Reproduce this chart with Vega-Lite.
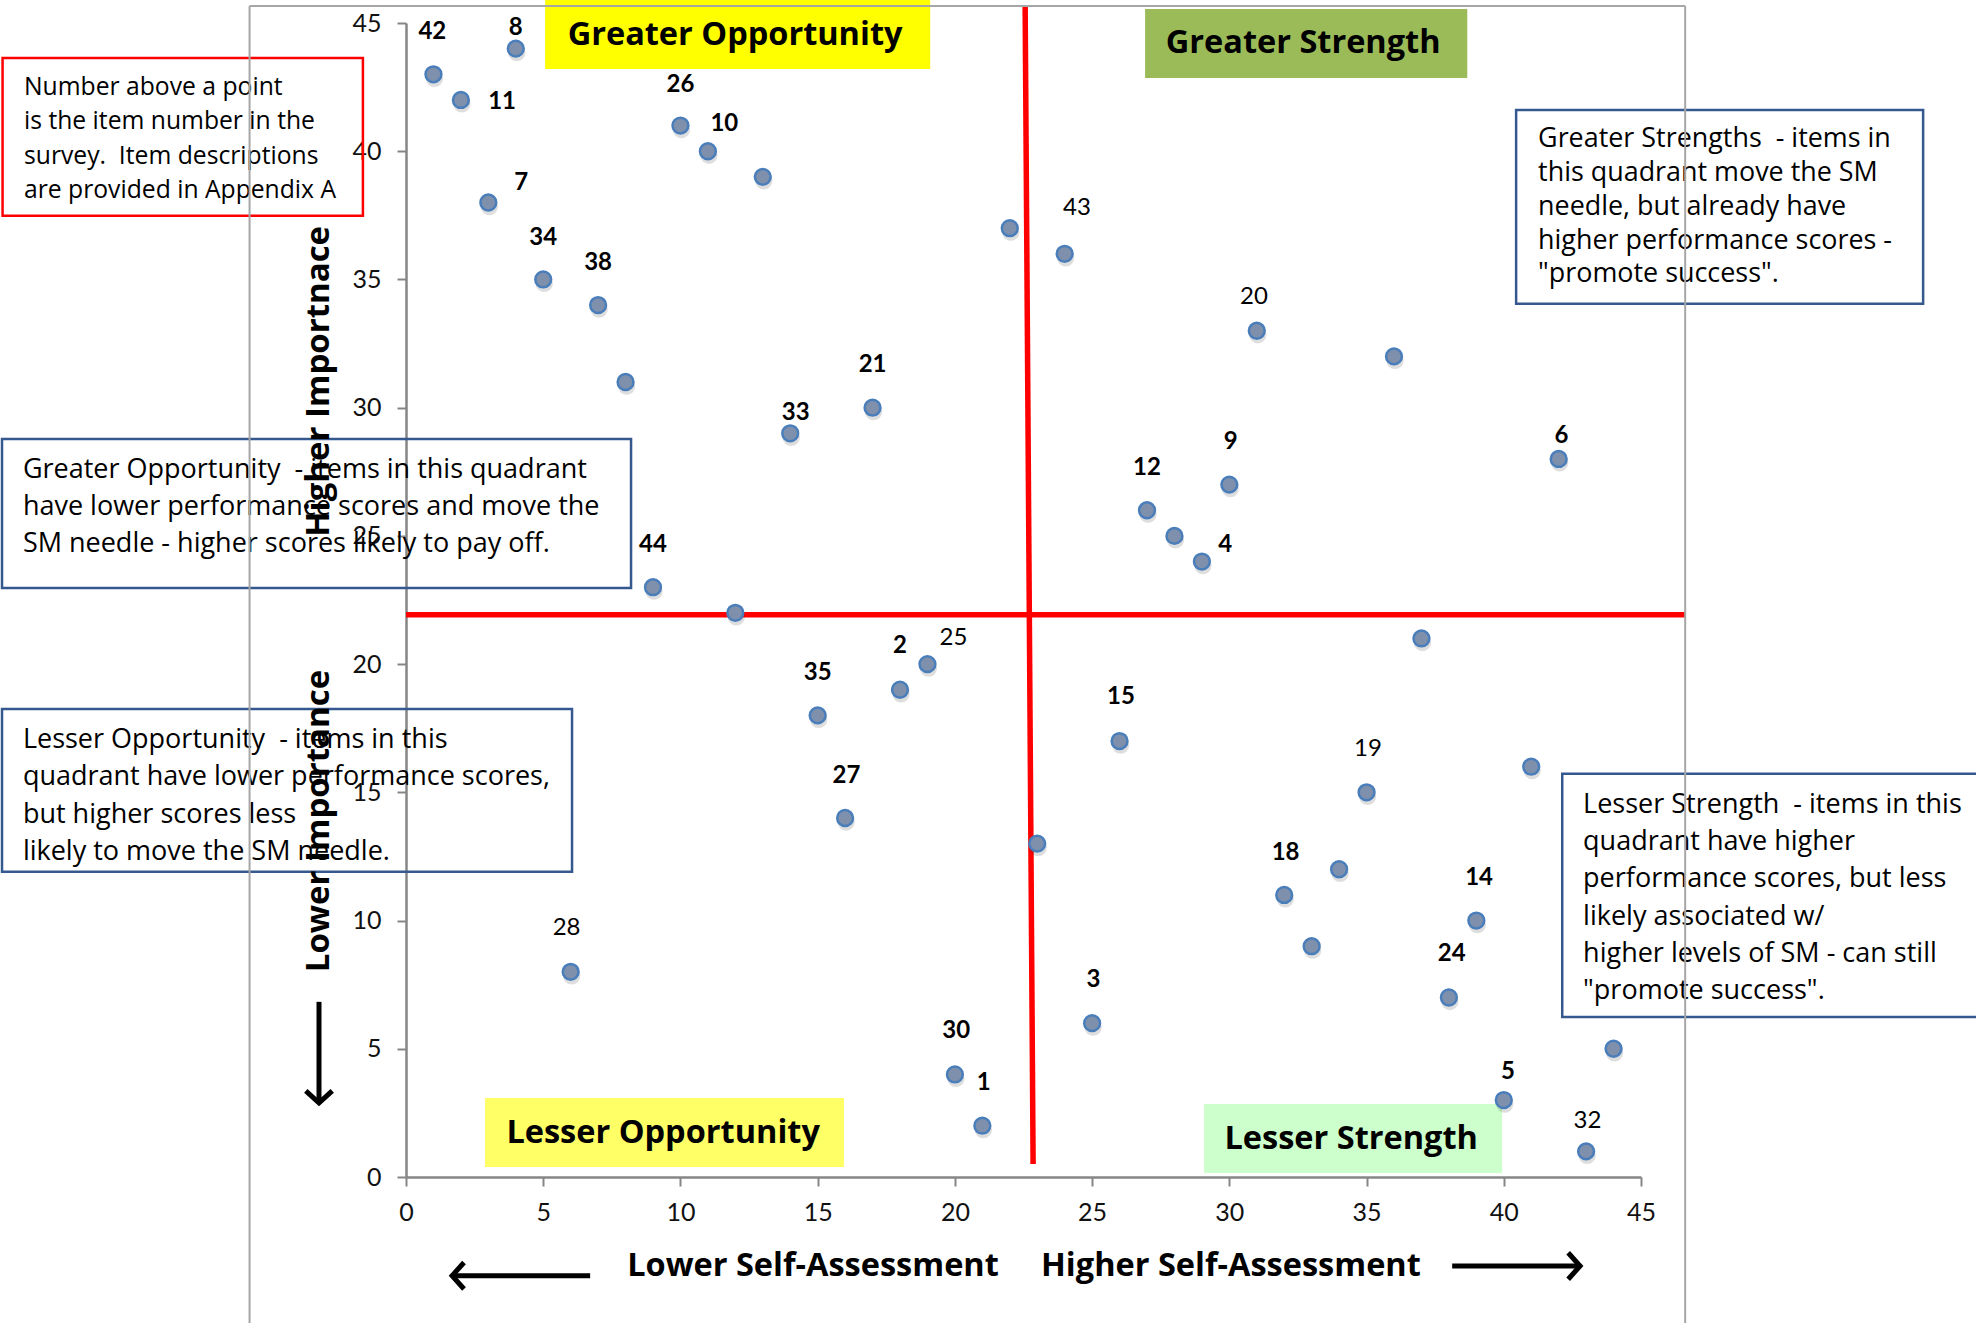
{
  "$schema": "https://vega.github.io/schema/vega-lite/v6.json",
  "autosize": "none",
  "width": 1235,
  "height": 1154,
  "padding": {"left": 406, "top": 23, "right": 335, "bottom": 146},
  "background": "white",
  "config": {
    "view": {"stroke": null},
    "font": "Lato",
    "axis": {
      "domainColor": "#868686", "domainWidth": 2.5,
      "tickColor": "#868686", "tickWidth": 2, "tickSize": 9,
      "labelFont": "Lato", "labelFontSize": 25, "labelColor": "#111111",
      "labelFlush": false, "labelOverlap": false,
      "grid": false,
      "titleFont": "Open Sans", "titleFontWeight": "bold", "titleFontSize": 32.5, "titleColor": "#000000"
    }
  },
  "datasets": {
    "items": [
      {"item": 42, "x": 1, "y": 43, "lx": 0.96, "ly": 44.65, "b": true},
      {"item": 8, "x": 4, "y": 44, "lx": 4.0, "ly": 44.8, "b": true},
      {"item": 11, "x": 2, "y": 42, "lx": 3.5, "ly": 41.9, "b": true},
      {"item": 26, "x": 10, "y": 41, "lx": 10.0, "ly": 42.6, "b": true},
      {"item": 10, "x": 11, "y": 40, "lx": 11.6, "ly": 41.05, "b": true},
      {"item": null, "x": 13, "y": 39},
      {"item": 7, "x": 3, "y": 38, "lx": 4.2, "ly": 38.75, "b": true},
      {"item": 34, "x": 5, "y": 35, "lx": 5.0, "ly": 36.6, "b": true},
      {"item": 38, "x": 7, "y": 34, "lx": 7.0, "ly": 35.65, "b": true},
      {"item": null, "x": 8, "y": 31},
      {"item": 21, "x": 17, "y": 30, "lx": 17.0, "ly": 31.65, "b": true},
      {"item": 33, "x": 14, "y": 29, "lx": 14.2, "ly": 29.8, "b": true},
      {"item": 44, "x": 9, "y": 23, "lx": 9.0, "ly": 24.65, "b": true},
      {"item": null, "x": 12, "y": 22},
      {"item": null, "x": 22, "y": 37},
      {"item": 43, "x": 24, "y": 36, "lx": 24.45, "ly": 37.8, "b": false},
      {"item": 20, "x": 31, "y": 33, "lx": 30.9, "ly": 34.3, "b": false},
      {"item": null, "x": 36, "y": 32},
      {"item": 6, "x": 42, "y": 28, "lx": 42.1, "ly": 28.9, "b": true},
      {"item": 9, "x": 30, "y": 27, "lx": 30.05, "ly": 28.65, "b": true},
      {"item": 12, "x": 27, "y": 26, "lx": 27.0, "ly": 27.65, "b": true},
      {"item": null, "x": 28, "y": 25},
      {"item": 4, "x": 29, "y": 24, "lx": 29.85, "ly": 24.65, "b": true},
      {"item": null, "x": 37, "y": 21},
      {"item": 25, "x": 19, "y": 20, "lx": 19.95, "ly": 21.0, "b": false},
      {"item": 2, "x": 18, "y": 19, "lx": 18.0, "ly": 20.7, "b": true},
      {"item": 35, "x": 15, "y": 18, "lx": 15.0, "ly": 19.65, "b": true},
      {"item": 15, "x": 26, "y": 17, "lx": 26.05, "ly": 18.7, "b": true},
      {"item": null, "x": 41, "y": 16},
      {"item": 19, "x": 35, "y": 15, "lx": 35.05, "ly": 16.7, "b": false},
      {"item": 27, "x": 16, "y": 14, "lx": 16.05, "ly": 15.65, "b": true},
      {"item": null, "x": 23, "y": 13},
      {"item": 18, "x": 32, "y": 11, "lx": 32.05, "ly": 12.65, "b": true},
      {"item": null, "x": 34, "y": 12},
      {"item": 14, "x": 39, "y": 10, "lx": 39.1, "ly": 11.65, "b": true},
      {"item": null, "x": 33, "y": 9},
      {"item": 28, "x": 6, "y": 8, "lx": 5.85, "ly": 9.7, "b": false},
      {"item": 24, "x": 38, "y": 7, "lx": 38.1, "ly": 8.7, "b": true},
      {"item": 3, "x": 25, "y": 6, "lx": 25.05, "ly": 7.7, "b": true},
      {"item": null, "x": 44, "y": 5},
      {"item": 30, "x": 20, "y": 4, "lx": 20.05, "ly": 5.7, "b": true},
      {"item": 1, "x": 21, "y": 2, "lx": 21.05, "ly": 3.65, "b": true},
      {"item": 5, "x": 40, "y": 3, "lx": 40.15, "ly": 4.1, "b": true},
      {"item": 32, "x": 43, "y": 1, "lx": 43.05, "ly": 2.2, "b": false}
    ],
    "frame": [
      {"x": -5.7, "y": 45.66, "x2": -5.7, "y2": -5.8},
      {"x": -5.7, "y": 45.66, "x2": 46.61, "y2": 45.66},
      {"x": 46.61, "y": 45.66, "x2": 46.61, "y2": -5.8}
    ],
    "dividers": [
      {"x": 22.56, "y": 45.66, "x2": 22.85, "y2": 0.51},
      {"x": 0, "y": 21.92, "x2": 46.61, "y2": 21.92}
    ],
    "quadrants": [
      {"label": "Greater Opportunity", "x": 5.07, "x2": 19.1, "y": 45.9, "y2": 43.21, "tx": 11.99, "ty": 44.54},
      {"label": "Greater Strength", "x": 26.93, "x2": 38.67, "y": 45.55, "y2": 42.86, "tx": 32.69, "ty": 44.23},
      {"label": "Lesser Opportunity", "x": 2.88, "x2": 15.96, "y": 3.08, "y2": 0.39, "tx": 9.37, "ty": 1.72},
      {"label": "Lesser Strength", "x": 29.08, "x2": 39.94, "y": 2.85, "y2": 0.16, "tx": 34.44, "ty": 1.48}
    ],
    "notes": [
      {"box": "key", "kind": "key", "x": -14.7, "x2": -1.57, "y": 43.64, "y2": 37.48, "tx": -13.92, "ty": 42.98,
       "text": "Number above a point\nis the item number in the\nsurvey.\u00a0 Item descriptions\nare provided in Appendix A"},
      {"box": "greaterStrength", "kind": "quadrant", "x": 40.45, "x2": 55.28, "y": 41.61, "y2": 34.05, "tx": 41.25, "ty": 40.99,
       "text": "Greater Strengths\u00a0 - items in\nthis quadrant move the SM\nneedle, but already have\nhigher performance scores -\n\"promote success\"."},
      {"box": "greaterOpportunity", "kind": "quadrant", "x": -14.72, "x2": 8.2, "y": 28.78, "y2": 22.97, "tx": -13.96, "ty": 28.08,
       "text": "Greater Opportunity\u00a0 - items in this quadrant\nhave lower performance scores and move the\nSM needle - higher scores likely to pay off."},
      {"box": "lesserOpportunity", "kind": "quadrant", "x": -14.72, "x2": 6.05, "y": 18.25, "y2": 11.9, "tx": -13.96, "ty": 17.55,
       "text": "Lesser Opportunity\u00a0 - items in this\nquadrant have lower performance scores,\nbut higher scores less\nlikely to move the SM needle."},
      {"box": "lesserStrength", "kind": "quadrant", "x": 42.13, "x2": 57.5, "y": 15.72, "y2": 6.24, "tx": 42.89, "ty": 15.02,
       "text": "Lesser Strength\u00a0 - items in this\nquadrant have higher\nperformance scores, but less\nlikely associated w/\n\u00a0higher levels of SM - can still\n\"promote success\"."}
    ],
    "ytitle": [
      {"t": "Lower Importance", "x": -3.17, "y": 13.88},
      {"t": "Higher Importnace", "x": -3.17, "y": 31.03}
    ],
    "shafts": [
      {"x": 1.68, "x2": 6.71, "y": -3.85, "y2": -3.85},
      {"x": 38.12, "x2": 42.78, "y": -3.47, "y2": -3.47},
      {"x": -3.17, "x2": -3.17, "y": 6.83, "y2": 2.89}
    ],
    "heads": [
      {"x": 1.68, "y": -3.85, "dir": "left"},
      {"x": 42.78, "y": -3.47, "dir": "right"},
      {"x": -3.17, "y": 2.89, "dir": "down"}
    ]
  },
  "layer": [
    {
      "data": {"name": "quadrants"},
      "mark": {"type": "rect"},
      "encoding": {
        "x": {"field": "x", "type": "quantitative", "scale": {"domain": [0, 45], "nice": false, "zero": false}, "title": "Lower Self-Assessment\u00a0\u00a0\u00a0\u00a0\u00a0Higher Self-Assessment"},
        "x2": {"field": "x2"},
        "y": {"field": "y", "type": "quantitative", "scale": {"domain": [0, 45], "nice": false, "zero": false}, "title": null},
        "y2": {"field": "y2"},
        "color": {"field": "label", "type": "nominal", "legend": null,
          "scale": {"domain": ["Greater Opportunity", "Greater Strength", "Lesser Opportunity", "Lesser Strength"],
                    "range": ["#FFFF00", "#9BBB59", "#FFFF66", "#CCFFCC"]}}
      }
    },
    {
      "data": {"name": "quadrants"},
      "mark": {"type": "text", "font": "Open Sans", "fontWeight": "bold", "fontSize": 32.5, "align": "center", "baseline": "middle", "color": "#000000"},
      "encoding": {
        "x": {"field": "tx", "type": "quantitative", "title": "Lower Self-Assessment\u00a0\u00a0\u00a0\u00a0\u00a0Higher Self-Assessment"},
        "y": {"field": "ty", "type": "quantitative", "title": null},
        "text": {"field": "label"}
      }
    },
    {
      "data": {"name": "dividers"},
      "mark": {"type": "rule", "color": "#FF0000", "strokeWidth": 5.5},
      "encoding": {
        "x": {"field": "x", "type": "quantitative", "title": "Lower Self-Assessment\u00a0\u00a0\u00a0\u00a0\u00a0Higher Self-Assessment"},
        "x2": {"field": "x2"},
        "y": {"field": "y", "type": "quantitative", "title": null},
        "y2": {"field": "y2"}
      }
    },
    {
      "data": {"name": "items"},
      "mark": {"type": "point", "shape": "circle", "filled": true, "color": "#000000", "opacity": 0.13, "size": 300, "yOffset": 4, "xOffset": 1},
      "encoding": {
        "x": {"field": "x", "type": "quantitative", "title": "Lower Self-Assessment\u00a0\u00a0\u00a0\u00a0\u00a0Higher Self-Assessment"},
        "y": {"field": "y", "type": "quantitative", "title": null}
      }
    },
    {
      "data": {"name": "items"},
      "mark": {"type": "point", "shape": "circle", "filled": true, "fill": "#7F90AC", "stroke": "#4A7EBB", "strokeWidth": 2.5, "size": 250, "opacity": 1},
      "encoding": {
        "x": {"field": "x", "type": "quantitative", "title": "Lower Self-Assessment\u00a0\u00a0\u00a0\u00a0\u00a0Higher Self-Assessment",
              "axis": {"values": [0, 5, 10, 15, 20, 25, 30, 35, 40, 45], "labelPadding": 14, "titleY": 88, "titleBaseline": "middle"}},
        "y": {"field": "y", "type": "quantitative", "title": null,
              "axis": {"values": [0, 5, 10, 15, 20, 25, 30, 35, 40, 45], "labelPadding": 16}}
      }
    },
    {
      "data": {"name": "items"},
      "transform": [{"filter": "datum.item != null && datum.b"}],
      "mark": {"type": "text", "font": "Lato", "fontWeight": "bold", "fontSize": 24, "align": "center", "baseline": "middle", "color": "#000000"},
      "encoding": {
        "x": {"field": "lx", "type": "quantitative", "title": "Lower Self-Assessment\u00a0\u00a0\u00a0\u00a0\u00a0Higher Self-Assessment"},
        "y": {"field": "ly", "type": "quantitative", "title": null},
        "text": {"field": "item", "type": "nominal"}
      }
    },
    {
      "data": {"name": "items"},
      "transform": [{"filter": "datum.item != null && !datum.b"}],
      "mark": {"type": "text", "font": "Lato", "fontWeight": "normal", "fontSize": 24, "align": "center", "baseline": "middle", "color": "#000000"},
      "encoding": {
        "x": {"field": "lx", "type": "quantitative", "title": "Lower Self-Assessment\u00a0\u00a0\u00a0\u00a0\u00a0Higher Self-Assessment"},
        "y": {"field": "ly", "type": "quantitative", "title": null},
        "text": {"field": "item", "type": "nominal"}
      }
    },
    {
      "data": {"name": "notes"},
      "mark": {"type": "rect", "fill": "transparent", "strokeWidth": 2.5},
      "encoding": {
        "x": {"field": "x", "type": "quantitative", "title": "Lower Self-Assessment\u00a0\u00a0\u00a0\u00a0\u00a0Higher Self-Assessment"},
        "x2": {"field": "x2"},
        "y": {"field": "y", "type": "quantitative", "title": null},
        "y2": {"field": "y2"},
        "stroke": {"field": "kind", "type": "nominal", "legend": null,
          "scale": {"domain": ["key", "quadrant"], "range": ["#FF0000", "#35598F"]}}
      }
    },
    {
      "data": {"name": "notes"},
      "transform": [{"filter": {"field": "box", "oneOf": ["key"]}}],
      "mark": {"type": "text", "font": "Open Sans", "fontSize": 24.7, "lineHeight": 34.5, "lineBreak": "\n", "align": "left", "baseline": "top", "color": "#000000"},
      "encoding": {
        "x": {"field": "tx", "type": "quantitative", "title": "Lower Self-Assessment\u00a0\u00a0\u00a0\u00a0\u00a0Higher Self-Assessment"},
        "y": {"field": "ty", "type": "quantitative", "title": null},
        "text": {"field": "text"}
      }
    },
    {
      "data": {"name": "notes"},
      "transform": [{"filter": {"field": "box", "oneOf": ["greaterStrength"]}}],
      "mark": {"type": "text", "font": "Open Sans", "fontSize": 26.9, "lineHeight": 33.9, "lineBreak": "\n", "align": "left", "baseline": "top", "color": "#000000"},
      "encoding": {
        "x": {"field": "tx", "type": "quantitative", "title": "Lower Self-Assessment\u00a0\u00a0\u00a0\u00a0\u00a0Higher Self-Assessment"},
        "y": {"field": "ty", "type": "quantitative", "title": null},
        "text": {"field": "text"}
      }
    },
    {
      "data": {"name": "notes"},
      "transform": [{"filter": {"field": "box", "oneOf": ["greaterOpportunity", "lesserOpportunity", "lesserStrength"]}}],
      "mark": {"type": "text", "font": "Open Sans", "fontSize": 27, "lineHeight": 37.3, "lineBreak": "\n", "align": "left", "baseline": "top", "color": "#000000"},
      "encoding": {
        "x": {"field": "tx", "type": "quantitative", "title": "Lower Self-Assessment\u00a0\u00a0\u00a0\u00a0\u00a0Higher Self-Assessment"},
        "y": {"field": "ty", "type": "quantitative", "title": null},
        "text": {"field": "text"}
      }
    },
    {
      "data": {"name": "ytitle"},
      "mark": {"type": "text", "font": "Open Sans", "fontWeight": "bold", "fontSize": 33, "angle": 270, "align": "center", "baseline": "middle", "color": "#000000"},
      "encoding": {
        "x": {"field": "x", "type": "quantitative", "title": "Lower Self-Assessment\u00a0\u00a0\u00a0\u00a0\u00a0Higher Self-Assessment"},
        "y": {"field": "y", "type": "quantitative", "title": null},
        "text": {"field": "t"}
      }
    },
    {
      "data": {"name": "shafts"},
      "mark": {"type": "rule", "color": "#000000", "strokeWidth": 5},
      "encoding": {
        "x": {"field": "x", "type": "quantitative", "title": "Lower Self-Assessment\u00a0\u00a0\u00a0\u00a0\u00a0Higher Self-Assessment"},
        "x2": {"field": "x2"},
        "y": {"field": "y", "type": "quantitative", "title": null},
        "y2": {"field": "y2"}
      }
    },
    {
      "data": {"name": "heads"},
      "mark": {"type": "point", "filled": false, "stroke": "#000000", "strokeWidth": 5, "size": 700, "opacity": 1, "strokeJoin": "miter"},
      "encoding": {
        "x": {"field": "x", "type": "quantitative", "title": "Lower Self-Assessment\u00a0\u00a0\u00a0\u00a0\u00a0Higher Self-Assessment"},
        "y": {"field": "y", "type": "quantitative", "title": null},
        "shape": {"field": "dir", "type": "nominal", "legend": null,
          "scale": {"domain": ["left", "right", "down"], "range": ["M0.9,-1L0,0L0.9,1", "M-0.9,-1L0,0L-0.9,1", "M-1,-0.9L0,0L1,-0.9"]}}
      }
    },
    {
      "data": {"name": "frame"},
      "mark": {"type": "rule", "color": "#A6A6A6", "strokeWidth": 2},
      "encoding": {
        "x": {"field": "x", "type": "quantitative", "title": "Lower Self-Assessment\u00a0\u00a0\u00a0\u00a0\u00a0Higher Self-Assessment"},
        "x2": {"field": "x2"},
        "y": {"field": "y", "type": "quantitative", "title": null},
        "y2": {"field": "y2"}
      }
    }
  ]
}
